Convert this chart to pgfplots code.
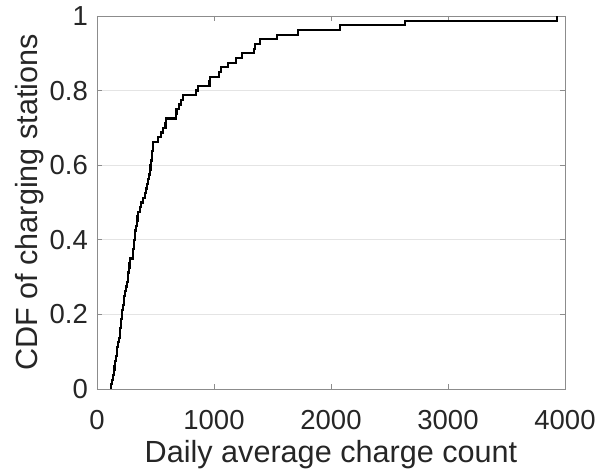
\documentclass[border=0pt]{standalone}
\usepackage{fontspec}
\setmainfont{Liberation Sans}
\usepackage{pgfplots}
\pgfplotsset{compat=1.18}
\definecolor{axgray}{RGB}{140,140,140}
\definecolor{txtgray}{RGB}{38,38,38}
\definecolor{gridgray}{RGB}{228,228,228}
\begin{document}
\begin{tikzpicture}
\useasboundingbox (-97bp,-87bp) rectangle (509bp,389bp);
\begin{axis}[
  scale only axis,
  width=468bp, height=373bp,
  xmin=0, xmax=4000, ymin=0, ymax=1,
  xtick={0,1000,2000,3000,4000},
  ytick={0,0.2,0.4,0.6,0.8,1},
  scaled ticks=false,
  /pgf/number format/1000 sep={},
  /pgf/number format/assume math mode=true,
  tick align=inside,
  major tick length=5bp,
  tick style={axgray, line width=0.6bp},
  axis line style={axgray, line width=0.8bp},
  ymajorgrids,
  grid style={gridgray, line width=0.8bp},
  ticklabel style={font=\fontsize{27.5bp}{30bp}\selectfont, text=txtgray},
  xticklabel style={anchor=base, inner sep=0pt, yshift=-40bp},
  yticklabel style={anchor=east, inner sep=0pt, xshift=-9bp},
  label style={font=\fontsize{30.6bp}{33bp}\selectfont, text=txtgray},
  xlabel={Daily average charge count},
  ylabel={CDF of charging stations},
  xlabel style={at={(axis description cs:0.5,-0.198)}, anchor=base, inner sep=0pt},
  ylabel style={at={(axis description cs:-0.128,0.5)}, anchor=base, inner sep=0pt},
]
\addplot[const plot, black, line width=2.2bp] coordinates {
(120,0)
(120,0.0125) (128,0.025) (136,0.0375) (145,0.05) (150,0.0625)
(156,0.075) (162,0.0875) (168,0.1) (174,0.1125) (182,0.125)
(189,0.1375) (197,0.15) (200,0.1625) (204,0.175) (208,0.1875)
(211,0.2) (216,0.2125) (222,0.225) (228,0.2375) (234,0.25)
(241,0.2625) (248,0.275) (255,0.2875) (262,0.3) (267,0.3125)
(272,0.325) (277,0.3375) (282,0.35) (305,0.3625) (308,0.375)
(313,0.3875) (318,0.4) (322,0.4125) (325,0.425) (332,0.4375)
(339,0.45) (346,0.4625) (353,0.475) (368,0.4875) (375,0.5)
(393,0.5125) (410,0.525) (420,0.5375) (430,0.55) (439,0.5625)
(446,0.575) (452,0.5875) (457,0.6) (462,0.6125) (467,0.625)
(472,0.6375) (477,0.65) (481,0.6625) (518,0.675) (550,0.6875)
(561,0.7) (585,0.7125) (590,0.725) (675,0.7375) (680,0.75)
(700,0.7625) (715,0.775) (732,0.7875) (846,0.8) (866,0.8125)
(962,0.825) (968,0.8375) (1045,0.85) (1060,0.8625) (1117,0.875)
(1188,0.8875) (1236,0.9) (1340,0.9125) (1350,0.925) (1393,0.9375)
(1536,0.95) (1720,0.9625) (2077,0.975) (2632,0.9875) (3932,1)
};
\end{axis}
\end{tikzpicture}
\end{document}
